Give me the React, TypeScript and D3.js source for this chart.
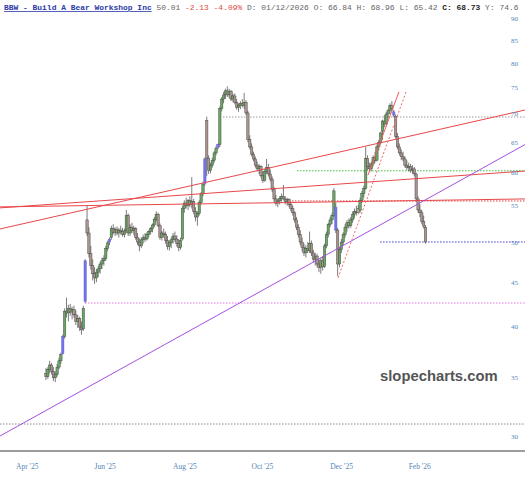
import React from "react";
import * as d3 from "d3";

const W = 525;
const H = 480;

// OHLC rows [open, high, low, close], daily, first candle is trading day #16 (from Apr 1 2025)
const firstIndex = 16;
const apr25 = [
  [35.4, 35.9, 34.8, 35.1], [35.1, 36.0, 34.9, 35.8], [35.8, 36.6, 35.4, 36.2], [36.2, 36.4, 35.3, 35.6], [35.6, 36.0, 34.7, 35.0],
];
const may25 = [
  [35.0, 35.6, 34.6, 35.3], [35.3, 36.3, 35.1, 36.0], [36.0, 36.9, 35.8, 36.6], [36.6, 37.4, 36.3, 37.2], [37.3, 39.2, 37.2, 39.0],
  [39.0, 42.0, 38.8, 41.7], [41.7, 43.2, 41.0, 41.5], [41.5, 42.4, 40.6, 42.0], [42.0, 42.5, 41.2, 41.6], [41.6, 42.2, 40.8, 41.9],
  [41.9, 42.3, 41.0, 41.3], [41.3, 41.8, 40.2, 40.6], [40.6, 41.3, 39.9, 40.9], [40.9, 41.1, 39.6, 40.0], [40.0, 40.6, 39.2, 39.7],
  [39.8, 42.3, 39.6, 42.0], [42.8, 47.8, 42.6, 47.6], [53.0, 55.0, 50.8, 51.2], [51.2, 52.0, 48.0, 48.5], [48.5, 49.5, 46.5, 47.0],
  [47.0, 47.8, 45.2, 46.0],
];
const jun25 = [
  [46.0, 46.8, 44.8, 45.5], [45.5, 46.6, 45.0, 46.2], [46.2, 47.0, 45.6, 46.6], [46.6, 47.5, 46.0, 47.2], [47.2, 48.0, 46.6, 47.6],
  [47.6, 48.3, 47.0, 47.9], [47.9, 49.5, 47.6, 49.2], [49.2, 50.2, 48.8, 49.9], [50.0, 50.6, 49.6, 50.4], [50.6, 52.2, 50.3, 51.8],
  [51.8, 52.4, 51.0, 51.3], [51.3, 52.0, 50.8, 51.7], [51.7, 52.1, 50.9, 51.2], [51.2, 51.9, 50.6, 51.6], [51.6, 52.2, 51.0, 51.4],
  [51.4, 51.9, 50.7, 51.0], [51.0, 51.8, 50.6, 51.5], [51.5, 54.4, 51.2, 53.6], [53.6, 53.9, 50.8, 51.2], [51.2, 52.4, 50.8, 52.0],
];
const jul25 = [
  [52.0, 52.6, 51.2, 51.5], [51.5, 52.2, 50.9, 51.8], [51.8, 52.0, 50.3, 50.6], [50.6, 51.2, 49.6, 50.0], [50.0, 50.5, 48.8, 49.5],
  [49.5, 50.6, 49.2, 50.3], [50.3, 51.0, 49.8, 50.6], [50.6, 51.2, 50.0, 50.4], [50.4, 51.3, 50.2, 51.0], [51.0, 51.6, 50.6, 51.4],
  [51.4, 52.0, 51.0, 51.8], [51.8, 52.5, 51.3, 52.3], [52.3, 53.4, 52.0, 53.1], [53.1, 54.2, 52.8, 53.8], [53.8, 54.0, 52.0, 52.2],
  [52.2, 52.5, 50.3, 50.6], [50.6, 51.5, 50.2, 51.2], [51.2, 51.8, 50.6, 51.0], [51.0, 51.4, 49.8, 50.2], [50.2, 50.8, 49.0, 49.4],
  [49.4, 50.2, 48.9, 49.9], [49.9, 50.6, 49.2, 50.3],
];
const aug25 = [
  [50.3, 51.2, 49.8, 50.8], [50.8, 51.4, 50.0, 50.4], [50.4, 50.9, 49.4, 49.8], [49.8, 50.4, 48.8, 49.3], [49.3, 50.6, 49.0, 50.2],
  [50.4, 55.0, 50.2, 54.6], [54.6, 55.8, 54.0, 55.4], [55.4, 56.2, 54.6, 55.0], [55.0, 56.0, 54.4, 55.8], [55.8, 56.4, 54.8, 55.2],
  [55.2, 59.3, 54.6, 55.6], [55.6, 56.0, 53.8, 54.2], [54.2, 54.8, 52.8, 53.4], [53.4, 54.2, 52.2, 53.9], [53.9, 55.8, 53.6, 55.5],
  [55.5, 57.0, 55.2, 56.8], [56.8, 58.6, 56.4, 58.2], [58.3, 62.5, 58.0, 62.2], [68.8, 69.5, 59.5, 62.3], [62.3, 62.8, 59.8, 60.4],
  [60.4, 61.6, 59.9, 61.2],
];
const sep25 = [
  [61.2, 62.4, 60.8, 62.0], [62.0, 63.5, 61.6, 63.2], [63.2, 64.4, 62.8, 64.0], [64.1, 64.8, 63.8, 64.6], [64.6, 71.4, 64.2, 71.0],
  [71.0, 73.2, 70.5, 72.8], [72.8, 74.2, 72.0, 73.6], [73.6, 74.8, 72.8, 74.4], [74.4, 75.3, 73.2, 73.6], [73.6, 74.8, 73.0, 74.3],
  [74.3, 74.6, 72.4, 72.8], [72.8, 73.8, 72.2, 73.4], [73.4, 73.9, 71.8, 72.2], [72.2, 72.8, 70.8, 71.2], [71.2, 72.0, 70.4, 71.6],
  [71.6, 72.4, 70.9, 72.0], [72.0, 72.8, 71.2, 71.6], [71.6, 74.0, 71.0, 72.2], [72.2, 72.6, 69.8, 70.2], [70.2, 70.6, 65.0, 65.5],
  [65.5, 66.2, 63.8, 64.2],
];
const oct25 = [
  [64.2, 64.8, 62.6, 63.0], [63.0, 63.4, 61.8, 62.2], [62.2, 62.6, 60.8, 61.2], [61.2, 61.8, 60.2, 60.6], [60.6, 61.4, 59.8, 61.0],
  [61.0, 61.2, 59.2, 59.6], [59.6, 60.2, 58.4, 58.8], [58.8, 60.6, 58.6, 60.2], [60.2, 62.2, 59.8, 60.8], [60.8, 61.4, 59.4, 59.8],
  [59.8, 60.5, 58.6, 59.0], [59.0, 59.4, 57.0, 57.4], [57.4, 57.8, 55.6, 56.0], [56.0, 56.6, 55.0, 55.4], [55.4, 56.0, 54.8, 55.7],
  [55.7, 56.4, 55.2, 56.1], [56.1, 56.8, 55.6, 56.4], [56.4, 58.1, 55.8, 56.0], [56.0, 56.4, 55.2, 55.6], [55.6, 56.2, 55.0, 55.9],
  [55.9, 56.1, 54.8, 55.2], [55.2, 55.6, 54.2, 54.6], [54.6, 55.0, 53.6, 54.0],
];
const nov25 = [
  [54.0, 54.2, 52.6, 53.0], [53.0, 53.4, 51.6, 52.0], [52.0, 52.4, 50.6, 51.0], [51.0, 51.6, 49.6, 50.0], [50.0, 50.6, 48.8, 49.3],
  [49.3, 49.8, 48.2, 48.6], [48.6, 49.6, 48.0, 49.2], [49.2, 50.0, 48.6, 48.9], [48.9, 51.4, 48.6, 49.8], [49.8, 50.2, 48.2, 48.6],
  [48.6, 49.0, 47.4, 47.8], [47.8, 48.6, 47.0, 48.2], [48.2, 48.5, 46.8, 47.2], [47.2, 47.8, 46.2, 46.8], [46.8, 48.0, 46.0, 47.6],
  [47.6, 48.2, 46.4, 46.9], [46.9, 49.8, 46.7, 49.5], [49.5, 51.4, 49.2, 51.0], [51.0, 52.6, 50.6, 52.4],
];
const dec25 = [
  [52.4, 53.4, 52.0, 53.0], [53.0, 54.0, 52.4, 53.6], [53.6, 57.6, 53.4, 57.2], [54.8, 55.4, 51.2, 51.6], [51.6, 51.9, 45.7, 47.2],
  [47.2, 49.4, 46.8, 49.0], [49.0, 50.4, 48.6, 50.0], [50.0, 51.3, 49.6, 51.0], [51.0, 52.4, 50.6, 52.0], [52.0, 53.0, 51.4, 52.6],
  [52.6, 53.2, 51.8, 52.2], [52.2, 53.4, 51.9, 53.0], [53.0, 54.2, 52.6, 53.8], [53.8, 54.6, 53.2, 54.2], [54.2, 55.0, 53.6, 54.0],
  [54.0, 55.1, 53.8, 54.6], [54.3, 56.2, 54.0, 55.8], [55.8, 57.2, 55.4, 56.8], [56.8, 58.0, 56.2, 57.6], [57.6, 64.2, 57.4, 62.3],
  [62.3, 62.8, 60.4, 61.0], [61.0, 61.6, 60.2, 60.6],
];
const jan26 = [
  [60.6, 61.8, 60.2, 61.4], [61.4, 62.8, 61.0, 62.4], [62.4, 63.4, 61.6, 62.0], [62.0, 64.6, 61.8, 64.2], [64.2, 65.4, 63.6, 65.0],
  [65.0, 66.8, 64.6, 66.6], [66.84, 68.96, 65.42, 68.73], [68.7, 69.8, 67.6, 68.2], [68.2, 70.4, 67.8, 70.0], [70.0, 71.0, 69.2, 70.6],
  [70.6, 72.0, 70.0, 71.6], [71.6, 72.4, 70.6, 71.0], [70.4, 70.8, 69.4, 69.8], [69.6, 69.9, 65.6, 66.0], [66.0, 66.6, 63.8, 64.2],
  [64.2, 64.8, 62.8, 63.2], [63.2, 63.8, 62.0, 62.6], [62.6, 63.4, 61.8, 62.2], [62.2, 62.6, 60.8, 61.2], [61.2, 62.0, 60.4, 60.8],
];
const feb26 = [
  [60.8, 61.6, 60.2, 61.0], [61.0, 61.4, 60.0, 60.4], [60.4, 61.2, 59.8, 60.6], [60.6, 60.9, 59.4, 59.8], [59.8, 60.0, 55.6, 56.0],
  [56.0, 56.4, 54.0, 54.4], [54.4, 55.2, 53.4, 54.0], [54.0, 54.4, 52.4, 52.8], [52.8, 53.6, 51.8, 52.14], [52.0, 52.3, 49.8, 50.01],
];

const blueCandles = [25, 37, 50, 101, 108, 171, 202];
const grayCandles = [183];

const monthLabels = ["Apr '25", "Jun '25", "Aug '25", "Oct '25", "Dec '25", "Feb '26"];
const monthIndex = [0, 42, 84, 126, 168, 210];
const priceTicks = [30, 35, 40, 45, 50, 55, 60, 65, 70, 75, 80, 85, 90];

// drawn studies: [index1, price1, index2, price2]
const trendLines = [
  { a: [-8.56, 51.75, 272.2, 70.74], color: "#e8474a", dash: "" },
  { a: [-8.56, 54.7, 272.2, 60.26], color: "#e8474a", dash: "" },
  { a: [-8.56, 54.84, 272.2, 56.0], color: "#e8474a", dash: "" },
  { a: [-8.56, 30.04, 272.2, 64.6], color: "#a64fe0", dash: "" },
  { a: [188.2, 59.6, 204.8, 74.2], color: "#ee5a5a", dash: "" },
  { a: [172.2, 45.5, 208.6, 74.2], color: "#ee6a6a", dash: "2,2" },
];
const levelLines = [
  { p: 69.45, from: 110.7, color: "#9a9a9a" },
  { p: 60.3, from: 150.3, color: "#3cbf3c" },
  { p: 55.7, from: 147.6, color: "#e83a3a" },
  { p: 50.01, from: 194.7, color: "#3a3acc" },
  { p: 42.6, from: 36.9, color: "#e67ae6" },
  { p: 31.0, from: -8.56, color: "#8a8a8a" },
];

export default function App() {
  const all = [...apr25, ...may25, ...jun25, ...jul25, ...aug25, ...sep25, ...oct25, ...nov25, ...dec25, ...jan26, ...feb26];
  const candles = all.map((r, k) => ({ i: firstIndex + k, o: r[0], h: r[1], l: r[2], c: r[3] }));

  const x = d3.scaleLinear().domain([0, 210]).range([16, 408.7]);
  const y = d3.scaleLog().domain([30, 90]).range([436.5, 18.35]);
  const xEnd = 272.2;
  const bw = 2.4;

  const colorOf = (d: any) => {
    if (blueCandles.includes(d.i)) return "#7373e8";
    if (grayCandles.includes(d.i)) return "#c4c4c4";
    return d.c >= d.o ? "#66a860" : "#ab938e";
  };

  return (
    <svg width={W} height={H} style={{ position: "absolute", left: 0, top: 0, background: "#fff" }}>
      <rect x={0} y={0} width={W} height={H} fill="#fff" />
      {levelLines.map((l, k) => (
        <line key={"lv" + k} x1={x(l.from)} x2={x(xEnd)} y1={y(l.p)} y2={y(l.p)} stroke={l.color} strokeWidth={1} strokeDasharray="1.5,1.5" />
      ))}
      {candles.map((d) => {
        const cx = x(d.i);
        const top = y(Math.max(d.o, d.c));
        const bot = y(Math.min(d.o, d.c));
        const blue = blueCandles.includes(d.i);
        return (
          <g key={d.i}>
            <line x1={cx} x2={cx} y1={y(d.h)} y2={y(d.l)} stroke="#444" strokeWidth={0.7} />
            <rect x={cx - bw / 2} y={top} width={bw} height={Math.max(1, bot - top)} fill={colorOf(d)} stroke={blue ? "#6262d8" : "#444"} strokeWidth={0.45} />
          </g>
        );
      })}
      {trendLines.map((t, k) => (
        <line key={"tl" + k} x1={x(t.a[0])} y1={y(t.a[1])} x2={x(t.a[2])} y2={y(t.a[3])} stroke={t.color} strokeWidth={1} strokeDasharray={t.dash || undefined} />
      ))}
      <line x1={0} x2={W} y1={451} y2={451} stroke="#9c9c9c" strokeWidth={2} />
      {monthLabels.map((m, k) => (
        <text key={m} x={x(monthIndex[k])} y={468.5} fontFamily="Liberation Serif, serif" fontSize={7.5} fill="#5585b5">{m}</text>
      ))}
      {priceTicks.map((p) => (
        <text key={p} x={511} y={y(p)} dy="0.35em" fontFamily="Liberation Serif, serif" fontSize={7} fill="#5585b5">{p}</text>
      ))}
      <text x={380} y={381} fontFamily="Liberation Sans, Arial, sans-serif" fontWeight="bold" fontSize={14.8} fill="#555">slopecharts.com</text>
      <text x={4} y={10} fontFamily="Liberation Mono, monospace" fontSize={7.95} fill="#666" style={{ whiteSpace: "pre" }}>
        <tspan fill="#2b3aa8" fontWeight="bold" textDecoration="underline">BBW - Build A Bear Workshop Inc</tspan>
        <tspan> 50.01 </tspan>
        <tspan fill="#e04848">-2.13 -4.09%</tspan>
        <tspan> D: 01/12/2026 O: 66.84 H: 68.96 L: 65.42 </tspan>
        <tspan fill="#222" fontWeight="bold">C: 68.73</tspan>
        <tspan> Y: 74.6</tspan>
      </text>
    </svg>
  );
}
